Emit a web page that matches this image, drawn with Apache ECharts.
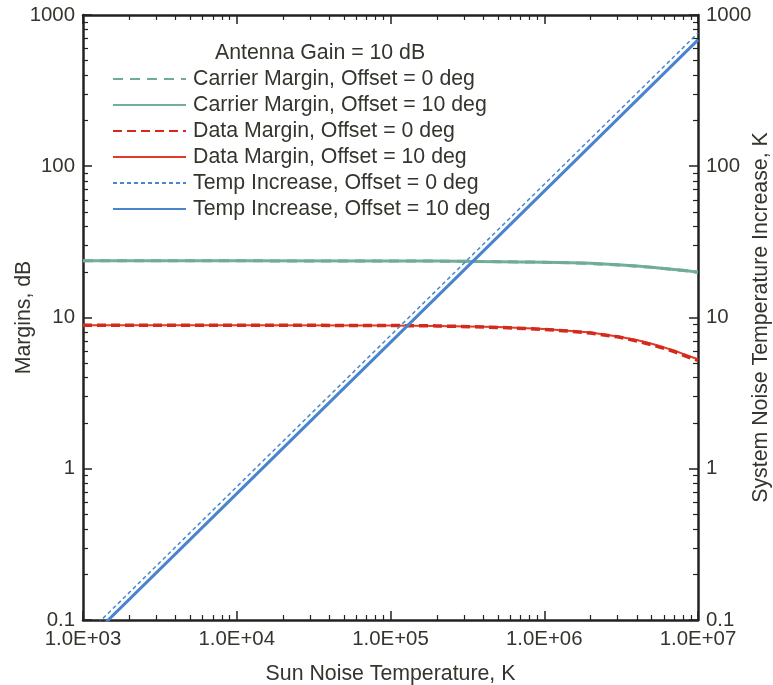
<!DOCTYPE html>
<html>
<head>
<meta charset="utf-8">
<script src="https://cdn.jsdelivr.net/npm/echarts@6/dist/echarts.min.js"></script>
<style>
html,body{margin:0;padding:0;background:#fff;}
#chart{width:773px;height:685px;}
</style>
</head>
<body>
<div id="chart"></div>
<script>
// ---- data ----
const sunTemp = [1e3, 1e4, 1e5, 2e5, 5e5, 1e6, 1.5e6, 2e6, 3e6, 4e6, 5e6, 6e6, 7e6, 8e6, 9e6, 1e7];
const carrierMargin0 = [23.7, 23.7, 23.6, 23.6, 23.4, 23.2, 22.95, 22.75, 22.25, 21.85, 21.45, 21.05, 20.75, 20.45, 20.15, 19.9];
const carrierMargin10 = [23.7, 23.7, 23.6, 23.6, 23.4, 23.2, 23.0, 22.8, 22.3, 21.9, 21.5, 21.1, 20.8, 20.5, 20.2, 20.0];
const dataMargin0 = [8.9, 8.9, 8.85, 8.8, 8.6, 8.35, 8.1, 7.9, 7.45, 7.0, 6.6, 6.25, 5.95, 5.65, 5.4, 5.2];
const dataMargin10 = [8.9, 8.9, 8.85, 8.8, 8.65, 8.4, 8.15, 7.95, 7.5, 7.1, 6.7, 6.35, 6.05, 5.75, 5.5, 5.3];
const tempX = [1e3, 1e4, 1e5, 1e6, 1e7];
const tempIncrease0 = [0.076, 0.76, 7.6, 76, 760];
const tempIncrease10 = [0.0685, 0.685, 6.85, 68.5, 685];
const xTickLabels = ['1.0E+03', '1.0E+04', '1.0E+05', '1.0E+06', '1.0E+07'];
const yTickLabels = ['0.1', '1', '10', '100', '1000'];
const seriesNames = [
  'Carrier Margin, Offset = 0 deg',
  'Carrier Margin, Offset = 10 deg',
  'Data Margin, Offset = 0 deg',
  'Data Margin, Offset = 10 deg',
  'Temp Increase, Offset = 0 deg',
  'Temp Increase, Offset = 10 deg'
];
const legendTitle = 'Antenna Gain = 10 dB';

// ---- helpers ----
const FONT = '"Liberation Sans", Arial, Helvetica, sans-serif';
const TXT = '#35352e';
const AX = '#222';
const BIG = 21.3;
function zip(xs, ys) { return xs.map((x, i) => [x, ys[i]]); }
function minorLog(lo, hi) {
  const out = [];
  for (let k = lo; k < hi; k++) for (let m = 2; m <= 9; m++) out.push(Math.log10(m) + k);
  return out;
}
const xMinor = minorLog(3, 7);
const yMinor = minorLog(-1, 3);

const baseLog = {
  type: 'log', logBase: 10, splitLine: { show: false },
  axisLine: { show: true, onZero: false, lineStyle: { color: AX, width: 2.5 } },
  axisTick: { show: true, inside: true, length: 9, lineStyle: { color: AX, width: 1.5 } },
  minorTick: { show: false }
};
const minorAxis = (pos, min, max, vals) => ({
  type: 'value', position: pos, min: min, max: max,
  axisLine: { show: false, onZero: false }, splitLine: { show: false },
  axisLabel: { show: false },
  axisTick: { show: true, inside: true, length: 5, customValues: vals, lineStyle: { color: AX, width: 1.2 } }
});

const chart = echarts.init(document.getElementById('chart'));
const option = {
  animation: false,
  backgroundColor: '#fff',
  textStyle: { fontFamily: FONT },
  grid: { left: 83, right: 75, top: 15, bottom: 65, containLabel: false, outerBoundsMode: 'none' },
  title: {
    text: legendTitle, left: 215, top: 43, padding: 0,
    textStyle: { fontFamily: FONT, fontSize: BIG, fontWeight: 'normal', color: TXT }
  },
  legend: {
    orient: 'vertical', left: 112, top: 66, padding: 0,
    itemWidth: 73, itemHeight: 14, itemGap: 0,
    data: seriesNames,
    itemStyle: { color: 'rgba(0,0,0,0)', borderColor: 'rgba(0,0,0,0)', borderWidth: 0, opacity: 0 },
    textStyle: { fontFamily: FONT, fontSize: BIG, color: TXT, lineHeight: 26, padding: [0, 0, 0, 2] }
  },
  xAxis: [
    Object.assign({}, baseLog, {
      position: 'bottom', min: 1e3, max: 1e7,
      name: 'Sun Noise Temperature, K', nameLocation: 'middle', nameGap: 44, nameMoveOverlap: false,
      nameTextStyle: { fontFamily: FONT, fontSize: BIG, color: TXT },
      axisLabel: { show: true, margin: 9, fontSize: 20.4, color: TXT, fontFamily: FONT,
        formatter: v => xTickLabels[Math.round(Math.log10(v)) - 3] }
    }),
    Object.assign({}, baseLog, { position: 'top', min: 1e3, max: 1e7, axisLabel: { show: false } }),
    minorAxis('bottom', 3, 7, xMinor),
    minorAxis('top', 3, 7, xMinor)
  ],
  yAxis: [
    Object.assign({}, baseLog, {
      position: 'left', min: 0.1, max: 1000,
      name: 'Margins, dB', nameLocation: 'middle', nameGap: 48, nameMoveOverlap: false,
      nameTextStyle: { fontFamily: FONT, fontSize: BIG, color: TXT },
      axisLabel: { show: true, margin: 8, fontSize: 20.4, color: TXT, fontFamily: FONT,
        formatter: v => yTickLabels[Math.round(Math.log10(v)) + 1] }
    }),
    Object.assign({}, baseLog, {
      position: 'right', min: 0.1, max: 1000,
      name: 'System Noise Temperature Increase, K', nameLocation: 'middle', nameGap: 53, nameMoveOverlap: false,
      nameTextStyle: { fontFamily: FONT, fontSize: BIG, color: TXT },
      axisLabel: { show: true, margin: 8, fontSize: 20.4, color: TXT, fontFamily: FONT,
        formatter: v => yTickLabels[Math.round(Math.log10(v)) + 1] }
    }),
    minorAxis('left', -1, 3, yMinor),
    minorAxis('right', -1, 3, yMinor)
  ],
  series: [
    { name: seriesNames[0], type: 'line', data: zip(sunTemp, carrierMargin0),
      symbol: 'none', lineStyle: { color: '#6fab97', width: 3, type: [10, 7] }, itemStyle: { color: '#6fab97' }, z: 3 },
    { name: seriesNames[1], type: 'line', data: zip(sunTemp, carrierMargin10),
      symbol: 'none', lineStyle: { color: '#74ae9b', width: 3 }, itemStyle: { color: '#74ae9b' }, z: 2 },
    { name: seriesNames[2], type: 'line', data: zip(sunTemp, dataMargin0),
      symbol: 'none', lineStyle: { color: '#d42a1c', width: 3.5, type: [9, 5] }, itemStyle: { color: '#d42a1c' }, z: 3 },
    { name: seriesNames[3], type: 'line', data: zip(sunTemp, dataMargin10),
      symbol: 'none', lineStyle: { color: '#e03a2a', width: 2 }, itemStyle: { color: '#e03a2a' }, z: 2 },
    { name: seriesNames[4], type: 'line', yAxisIndex: 1, data: zip(tempX, tempIncrease0),
      symbol: 'none', lineStyle: { color: '#4a86cf', width: 1.5, type: [4, 3] }, itemStyle: { color: '#4a86cf' }, z: 3 },
    { name: seriesNames[5], type: 'line', yAxisIndex: 1, data: zip(tempX, tempIncrease10),
      symbol: 'none', lineStyle: { color: '#4a84cc', width: 3 }, itemStyle: { color: '#4a84cc' }, z: 3 }
  ]
};
chart.setOption(option);
</script>
</body>
</html>
